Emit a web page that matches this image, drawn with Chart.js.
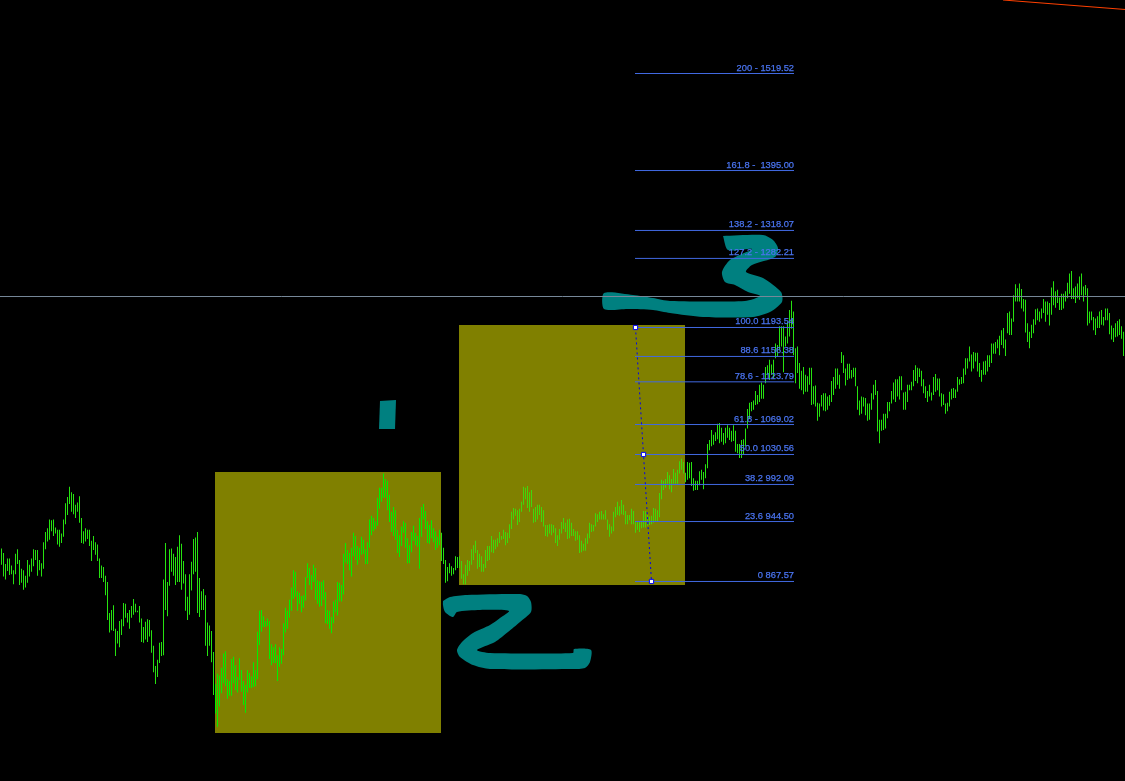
<!DOCTYPE html>
<html>
<head>
<meta charset="utf-8">
<title>Fibonacci chart</title>
<style>
    html, body { margin: 0; padding: 0; background: #000; }
    canvas { display: block; }
</style>
<script src="https://cdn.jsdelivr.net/npm/chart.js@4"></script>
</head>
<body>
<canvas id="priceChart" width="1125" height="781"></canvas>
<script>
// Bar highs, ten per line
const highs = [
    910,904,890,897,897,888,882,903,909,895,
    884,882,875,895,889,897,909,908,908,895,
    891,918,931,936,947,946,947,937,934,934,
    929,947,968,976,989,982,980,966,969,977,
    949,932,936,934,934,920,926,918,915,897,
    888,886,875,867,827,831,837,807,804,817,
    819,840,839,827,831,836,845,839,830,836,
    820,809,816,819,818,805,785,759,767,789,
    790,870,917,867,909,910,903,899,912,927,
    916,894,877,848,877,893,922,924,931,872,
    855,858,850,815,811,804,777,736,749,747,
    757,775,778,742,740,768,771,760,745,769,
    754,740,735,754,750,746,764,754,803,830,
    831,823,817,820,817,787,783,787,773,783,
    781,814,834,830,844,860,882,880,855,853,
    849,850,873,891,885,876,889,885,869,868,
    867,869,854,831,830,822,842,844,867,866,
    863,903,917,908,904,911,930,926,913,911,
    925,921,909,918,947,952,949,945,975,988,
    988,1006,999,997,979,957,963,959,934,927,
    938,945,943,923,914,931,939,930,926,949,
    963,967,958,945,940,946,936,932,925,934,
    930,911,895,886,891,887,885,900,899,900,
    894,877,889,895,894,909,914,920,908,903,
    900,890,908,913,913,926,921,921,923,931,
    926,934,931,930,941,957,962,961,959,961,
    970,989,988,990,982,985,961,963,966,966,
    963,959,940,940,941,941,940,936,927,935,
    944,949,943,947,948,943,935,932,932,927,
    920,916,923,929,943,941,940,955,954,957,
    958,954,959,947,941,938,957,963,970,964,
    972,966,958,953,953,961,958,945,944,945,
    945,958,958,953,951,952,962,961,959,981,
    998,997,999,1008,1004,999,1012,1007,1011,1022,
    1025,1021,1007,1021,1020,1021,1000,997,997,1009,
    1011,1008,1018,1044,1049,1062,1056,1059,1070,1071,
    1065,1058,1065,1068,1065,1061,1068,1061,1044,1044,
    1049,1050,1064,1089,1097,1098,1100,1112,1107,1120,
    1123,1120,1143,1145,1152,1146,1152,1173,1171,1195,
    1195,1195,1182,1201,1216,1228,1214,1167,1169,1148,
    1138,1143,1133,1131,1142,1142,1118,1119,1097,1096,
    1107,1109,1109,1105,1107,1125,1130,1141,1141,1133,
    1162,1158,1141,1147,1147,1139,1142,1142,1118,1100,
    1105,1104,1103,1096,1096,1109,1120,1126,1112,1075,
    1075,1083,1083,1098,1098,1112,1123,1127,1127,1131,
    1131,1110,1111,1120,1120,1124,1139,1145,1142,1141,
    1138,1127,1118,1112,1120,1110,1130,1134,1128,1128,
    1109,1108,1096,1097,1111,1115,1116,1114,1130,1127,
    1130,1141,1154,1154,1169,1159,1162,1161,1161,1148,
    1139,1150,1151,1158,1158,1173,1173,1175,1178,1183,
    1190,1193,1178,1212,1214,1205,1235,1249,1244,1250,
    1243,1230,1229,1199,1188,1197,1204,1217,1218,1214,
    1218,1230,1227,1227,1225,1245,1253,1240,1242,1232,
    1237,1237,1240,1251,1263,1266,1244,1246,1250,1259,
    1263,1246,1248,1244,1214,1214,1207,1205,1208,1214,
    1216,1207,1218,1218,1212,1196,1193,1199,1202,1204,
    1195,1188
];

// Bar lows, same order
const lows = [
    889,874,870,881,876,877,864,877,890,863,
    866,857,860,866,874,880,887,895,875,882,
    874,884,909,919,921,932,926,929,915,912,
    917,925,941,953,967,957,954,949,957,943,
    917,916,919,922,913,894,908,902,894,872,
    872,867,850,818,802,805,804,772,788,783,
    799,810,821,815,807,821,825,828,828,815,
    790,789,793,790,797,776,751,736,745,763,
    772,773,831,823,862,880,875,863,867,867,
    857,865,830,818,825,856,877,880,827,822,
    831,831,785,772,785,764,722,698,681,707,
    724,737,733,717,721,721,737,728,725,741,
    726,709,699,725,731,731,732,733,742,786,
    803,809,809,810,768,760,763,763,740,758,
    762,773,802,807,821,830,845,848,830,839,
    828,834,843,872,863,857,867,844,839,835,
    836,844,814,813,807,801,814,828,824,842,
    842,851,892,890,882,874,900,895,889,895,
    902,903,890,890,911,927,932,935,939,961,
    970,975,975,959,944,931,926,921,904,899,
    913,930,911,891,891,905,920,914,912,884,
    925,947,935,917,916,923,918,908,911,914,
    894,890,866,868,878,875,877,882,885,885,
    871,864,864,875,881,889,895,904,884,886,
    880,880,885,894,895,905,904,909,912,917,
    921,922,914,917,923,935,947,952,940,944,
    957,966,973,962,957,963,943,944,947,953,
    944,938,926,925,929,927,930,917,913,921,
    929,935,931,922,923,926,926,920,921,904,
    905,907,907,916,923,931,932,938,944,947,
    947,947,947,934,925,929,932,950,953,952,
    954,953,941,941,946,941,941,930,934,931,
    936,937,937,939,940,941,943,945,945,950,
    973,985,988,993,986,982,993,993,993,1006,
    1011,1006,995,998,1000,990,984,985,985,991,
    998,986,1000,1013,1036,1041,1043,1048,1050,1045,
    1047,1043,1045,1052,1049,1047,1048,1034,1032,1026,
    1026,1031,1041,1064,1076,1086,1088,1094,1095,1098,
    1102,1102,1122,1133,1126,1133,1128,1154,1156,1165,
    1169,1136,1169,1173,1182,1192,1158,1122,1135,1115,
    1113,1108,1111,1111,1120,1094,1095,1092,1074,1079,
    1092,1087,1086,1088,1093,1098,1107,1115,1120,1115,
    1148,1135,1119,1126,1128,1128,1130,1118,1088,1081,
    1083,1092,1081,1074,1075,1088,1101,1107,1060,1045,
    1061,1062,1064,1077,1086,1096,1101,1098,1105,1101,
    1113,1088,1088,1098,1113,1113,1118,1125,1122,1130,
    1118,1109,1103,1098,1105,1100,1107,1111,1113,1105,
    1092,1094,1083,1086,1092,1101,1103,1103,1111,1120,
    1121,1122,1133,1141,1150,1137,1141,1150,1137,1130,
    1124,1133,1133,1137,1143,1148,1160,1160,1167,1158,
    1171,1167,1157,1186,1184,1184,1201,1227,1227,1227,
    1218,1214,1187,1175,1167,1180,1186,1197,1203,1201,
    1205,1212,1201,1210,1196,1210,1222,1219,1225,1216,
    1216,1218,1227,1231,1237,1230,1230,1225,1231,1229,
    1235,1227,1235,1196,1199,1203,1190,1184,1193,1193,
    1197,1196,1203,1203,1185,1178,1175,1181,1182,1184,
    1179,1157
];

// Fibonacci levels
const fibPrices = [1519.52, 1395.00, 1318.07, 1282.21, 1193.54, 1156.38, 1123.79, 1069.02, 1030.56, 992.09, 944.50, 867.57];
const fibLabels = ['200 - 1519.52', '161.8 -  1395.00', '138.2 - 1318.07', '127.2 - 1282.21', '100.0 1193.54', '88.6 1156.38', '78.6 - 1123.79', '61.8 - 1069.02', '50.0 1030.56', '38.2 992.09', '23.6 944.50', '0 867.57'];
const fibStart = 316.75;
const fibEnd = 396.25;

// Trend line behind the fibonacci, with its three handles
const trendBars = [317, 321, 325];
const trendPrices = [1193.54, 1030.56, 867.57];

// Horizontal line across the chart and red line in the corner
const levelPrice = 1233.3;
const redBars = [500.75, 561.75];
const redPrices = [1613.9, 1601.7];

// Olive zones: first bar, last bar, bottom price, top price
const zoneOneBars = [106.75, 219.75, 219.75, 106.75];
const zoneOnePrices = [1008.1, 1008.1, 673.1, 673.1];
const zoneTwoBars = [228.75, 341.75, 341.75, 228.75];
const zoneTwoPrices = [1196.8, 1196.8, 863.1, 863.1];

// Hand drawn numbers
const oneBars = [189.25, 197.25, 196.75, 188.75];
const onePrices = [1099.2, 1100.5, 1063.3, 1063.3];
const twoBars = [220.75, 224.25, 232.75, 259.25, 262.75, 264.75, 264.75, 259.25, 253.25, 246.75, 237.75, 244.25, 285.75, 286.25, 294.75, 294.25, 291.75, 285.75, 244.25, 235.75, 229.25, 227.75, 230.25, 235.75, 244.25, 249.25, 253.75, 239.25, 227.75, 225.75, 221.75, 220.75];
const twoPrices = [842.6, 847.7, 850.3, 851.6, 849.0, 841.3, 828.5, 815.6, 802.8, 790.0, 779.7, 775.8, 775.8, 781.0, 779.7, 764.3, 756.6, 755.3, 755.3, 760.4, 770.7, 779.7, 790.0, 801.5, 811.8, 820.8, 829.7, 831.0, 828.5, 822.0, 828.5, 837.4];
const threeBars = [360.75, 380.75, 385.75, 388.25, 386.75, 375.25, 372.25, 380.75, 389.75, 390.25, 384.25, 375.75, 350.75, 334.25, 325.75, 313.25, 301.25, 301.25, 315.75, 325.75, 334.25, 371.75, 379.25, 373.25, 366.75, 361.75, 360.25, 364.25, 375.25, 363.25];
const threePrices = [1311.0, 1312.3, 1305.9, 1295.6, 1284.0, 1273.8, 1264.8, 1257.1, 1239.1, 1226.3, 1213.4, 1207.0, 1207.0, 1212.1, 1216.0, 1217.3, 1217.3, 1237.8, 1235.2, 1231.4, 1227.6, 1227.6, 1234.0, 1239.1, 1248.1, 1251.9, 1264.8, 1280.2, 1294.3, 1293.0];

const OLIVE = '#808000';
const TEAL = '#008080';
const FIB_BLUE = '#4169e1';
const LABEL_BLUE = '#4a74f0';

const toPoints = (xs, ys) => xs.map((x, i) => ({ x: x, y: ys[i] }));

// Closed filled shape, as a line dataset
const shapeDataset = (xs, ys, color, order, tension) => {
    const points = toPoints(xs, ys);
    points.push(points[0]);
    return {
        type: 'line',
        data: points,
        fill: 'shape',
        backgroundColor: color,
        borderWidth: 0,
        pointRadius: 0,
        tension: tension,
        order: order
    };
};

// Straight line between points
const lineDataset = (xs, ys, color, order) => ({
    type: 'line',
    data: toPoints(xs, ys),
    borderColor: color,
    borderWidth: 1,
    pointRadius: 0,
    fill: false,
    order: order
});

// Bars look a little different on each olive zone
const barColor = (i) => {
    if (i >= 107 && i <= 219) return '#00f000';
    if (i >= 229 && i <= 341) return '#40d80c';
    return '#26e210';
};

const fibDatasets = fibPrices.map((price) => lineDataset([fibStart, fibEnd], [price, price], FIB_BLUE, 2));

const trendDataset = {
    type: 'line',
    data: toPoints(trendBars, trendPrices),
    borderColor: '#0000f0',
    borderWidth: 1,
    borderDash: [2, 3],
    pointStyle: 'rect',
    pointRadius: 3,
    pointBorderWidth: 1,
    pointBackgroundColor: '#ffffff',
    pointBorderColor: '#0000f0',
    fill: false,
    order: 1
};

// Writes the fibonacci labels just above each line
const fibLabelsPlugin = {
    id: 'fibLabels',
    afterDatasetsDraw(chart) {
        const { ctx, scales } = chart;
        ctx.save();
        ctx.font = '9.3px "Liberation Sans"';
        ctx.fillStyle = LABEL_BLUE;
        ctx.strokeStyle = LABEL_BLUE;
        ctx.lineWidth = 0.25;
        ctx.textAlign = 'right';
        ctx.textBaseline = 'alphabetic';
        fibLabels.forEach((label, i) => {
            const x = scales.x.getPixelForValue(fibEnd);
            const y = scales.y.getPixelForValue(fibPrices[i]) - 3;
            ctx.fillText(label, x, y);
            ctx.strokeText(label, x, y);
        });
        ctx.restore();
    }
};

new Chart(document.getElementById('priceChart').getContext('2d'), {
    type: 'bar',
    data: {
        datasets: [
            shapeDataset(zoneOneBars, zoneOnePrices, OLIVE, 9, 0),
            shapeDataset(zoneTwoBars, zoneTwoPrices, OLIVE, 9, 0),
            shapeDataset(oneBars, onePrices, TEAL, 8, 0),
            shapeDataset(twoBars, twoPrices, TEAL, 8, 0.25),
            shapeDataset(threeBars, threePrices, TEAL, 8, 0.25),
            {
                type: 'bar',
                data: highs.map((high, i) => ({ x: i, y: [lows[i], high] })),
                backgroundColor: highs.map((high, i) => barColor(i)),
                barThickness: 1,
                inflateAmount: 0,
                borderWidth: 0,
                order: 5
            },
            lineDataset([-0.75, 561.75], [levelPrice, levelPrice], '#778899', 3),
            lineDataset(redBars, redPrices, '#ff4000', 3),
            ...fibDatasets,
            trendDataset
        ]
    },
    options: {
        responsive: false,
        animation: false,
        events: [],
        layout: { padding: 0, autoPadding: false },
        plugins: {
            legend: { display: false },
            tooltip: { enabled: false }
        },
        scales: {
            x: { type: 'linear', min: -0.75, max: 561.75, offset: false, display: false },
            y: { type: 'linear', min: 611.5, max: 1613.86, display: false }
        }
    },
    plugins: [fibLabelsPlugin]
});
</script>
</body>
</html>
